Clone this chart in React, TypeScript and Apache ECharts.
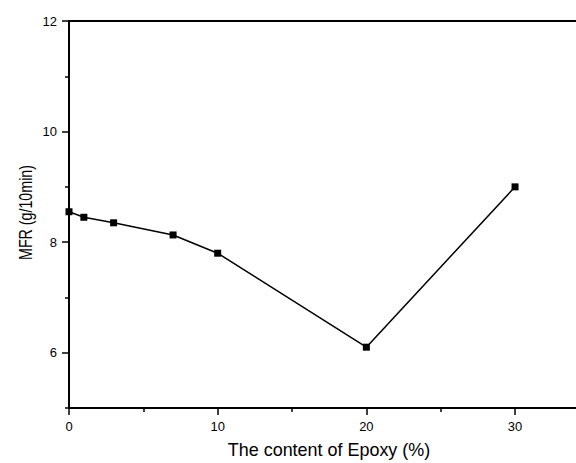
import React, { useEffect, useRef } from "react";
import * as echarts from "echarts";

const epoxyContent: number[] = [0, 1, 3, 7, 10, 20, 30];
const mfrValues: number[] = [8.55, 8.45, 8.35, 8.13, 7.8, 6.1, 9.0];
const xMajorTicks: number[] = [0, 10, 20, 30];
const xMinorTicks: number[] = [5, 15, 25];
const yMajorTicks: number[] = [6, 8, 10, 12];
const yMinorTicks: number[] = [5, 7, 9, 11];
const xTitle = "The content of Epoxy (%)";
const yTitle = "MFR (g/10min)";

const FONT = "'Liberation Sans', Arial, Helvetica, sans-serif";

export default function App() {
  const ref = useRef<HTMLDivElement>(null);
  useEffect(() => {
    document.body.style.margin = "0";
    if (!ref.current) return;
    const chart = echarts.init(ref.current, undefined, { renderer: "svg" });
    const axisLine = { show: true, lineStyle: { color: "#000", width: 2 } };
    const tickStyle = { color: "#000", width: 1.5 };
    const X_MAX = 34.1;
    const option: any = {
      animation: false,
      backgroundColor: "#fff",
      grid: { left: 69, top: 21, right: 0, bottom: 55, containLabel: false },
      xAxis: [
        {
          type: "value",
          position: "bottom",
          min: 0,
          max: X_MAX,
          interval: 5,
          axisLine,
          axisTick: { show: true, inside: false, length: 7, lineStyle: tickStyle, customValues: xMajorTicks },
          axisLabel: { show: true, customValues: xMajorTicks, margin: 12, color: "#000", fontSize: 13, fontFamily: FONT },
          splitLine: { show: false },
        },
        {
          type: "value",
          position: "top",
          min: 0,
          max: X_MAX,
          interval: 5,
          axisLine,
          axisTick: { show: false },
          axisLabel: { show: false },
          splitLine: { show: false },
        },
        {
          type: "value",
          position: "bottom",
          offset: 0,
          min: 0,
          max: X_MAX,
          interval: 5,
          axisLine: { show: false },
          axisTick: { show: true, inside: false, length: 4, lineStyle: tickStyle, customValues: xMinorTicks },
          axisLabel: { show: false },
          splitLine: { show: false },
        },
      ],
      yAxis: [
        {
          type: "value",
          position: "left",
          min: 5,
          max: 12,
          interval: 1,
          axisLine,
          axisTick: { show: true, inside: false, length: 7, lineStyle: tickStyle, customValues: yMajorTicks },
          axisLabel: { show: true, customValues: yMajorTicks, margin: 12, color: "#000", fontSize: 13, fontFamily: FONT },
          splitLine: { show: false },
        },
        {
          type: "value",
          position: "left",
          offset: 0,
          min: 5,
          max: 12,
          interval: 1,
          axisLine: { show: false },
          axisTick: { show: true, inside: false, length: 4, lineStyle: tickStyle, customValues: yMinorTicks },
          axisLabel: { show: false },
          splitLine: { show: false },
        },
      ],
      graphic: [
        {
          type: "text",
          x: 329,
          y: 449,
          scaleX: 0.945,
          style: { text: xTitle, fontSize: 19, fontFamily: FONT, fill: "#000", textAlign: "center", textVerticalAlign: "middle" },
        },
        {
          type: "text",
          x: 26,
          y: 212.5,
          rotation: Math.PI / 2,
          scaleX: 0.75,
          style: { text: yTitle, fontSize: 19, fontFamily: FONT, fill: "#000", textAlign: "center", textVerticalAlign: "middle" },
        },
      ],
      series: [
        {
          type: "line",
          xAxisIndex: 0,
          yAxisIndex: 0,
          data: epoxyContent.map((x, i) => [x, mfrValues[i]]),
          symbol: "rect",
          symbolSize: 7,
          lineStyle: { color: "#000", width: 1.5 },
          itemStyle: { color: "#000" },
          clip: false,
        },
      ],
    };
    chart.setOption(option);
    return () => chart.dispose();
  }, []);
  return <div ref={ref} style={{ width: 576, height: 463 }} />;
}
